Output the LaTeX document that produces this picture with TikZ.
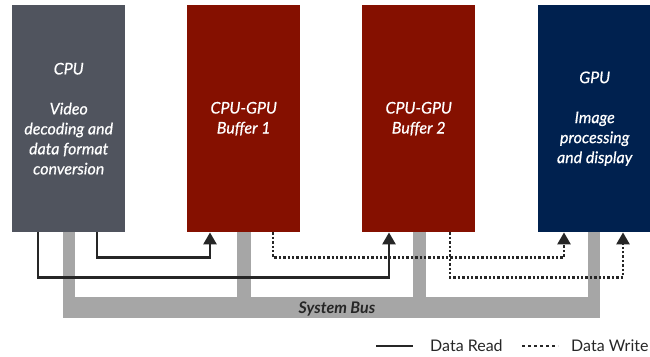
\documentclass[tikz,border=0pt]{standalone}
\usepackage{fontspec}
\setmainfont{Lato}
\newfontfamily\boxfont[FakeBold=0.6]{Lato}
\usetikzlibrary{arrows.meta,calc}
\definecolor{cpucol}{HTML}{50545E}
\definecolor{bufcol}{HTML}{851000}
\definecolor{gpucol}{HTML}{00214F}
\definecolor{buscol}{HTML}{A6A6A6}
\definecolor{linecol}{HTML}{262626}
\begin{document}
\begin{tikzpicture}[x=1pt,y=-1pt,
  unitbox/.style={anchor=north west,minimum width=113pt,minimum height=227pt,inner sep=0pt,
    text=white,align=center,font=\boxfont\fontsize{16}{20}\selectfont\itshape},
  readline/.style={draw=linecol,line width=2.6pt,-{Triangle[width=13pt,length=12pt]}},
  writeline/.style={draw=linecol,line width=2.6pt,dash pattern=on 2.4pt off 2pt,-{Triangle[width=13pt,length=12pt]}},
  buspart/.style={fill=buscol,draw=none}]
\useasboundingbox (0,0) rectangle (650,356);
% units
\node[unitbox,fill=cpucol] (cpu) at (12,5) {CPU\\[20pt]Video\\decoding and\\data format\\conversion};
\node[unitbox,fill=bufcol] (buf1) at (187,5) {CPU-GPU\\Buffer 1};
\node[unitbox,fill=bufcol] (buf2) at (362,5) {CPU-GPU\\Buffer 2};
\node[unitbox,fill=gpucol,minimum width=113pt] (gpu) at (538,5) {GPU\\[20pt]Image\\processing\\and display};
% system bus
\fill[buspart] (63,297) rectangle (600,318);
\fill[buspart] (63,232) rectangle (75,298);
\fill[buspart] (237,232) rectangle (251,298);
\fill[buspart] (413,232) rectangle (426,298);
\fill[buspart] (588,232) rectangle (600,298);
\node[font=\fontsize{16}{18}\selectfont\itshape\bfseries,text=linecol] (bus) at (337,308.5) {System Bus};
% data read
\draw[readline] ($(cpu.south west)+(85,0)$) -- ++(0,25) -| ($(buf1.south west)+(23,0)$);
\draw[readline] ($(cpu.south west)+(26,0)$) -- ++(0,45) -| ($(buf2.south west)+(27,0)$);
% data write
\draw[writeline] ($(buf1.south west)+(86,0)$) -- ++(0,25) -| ($(gpu.south west)+(26,0)$);
\draw[writeline] ($(buf2.south west)+(88,0)$) -- ++(0,45) -| ($(gpu.south west)+(85,0)$);
% legend
\coordinate (lr1) at (376,346);
\coordinate (lr2) at (413,346);
\draw[draw=linecol,line width=2.6pt] (lr1) -- (lr2);
\node[anchor=west,font=\fontsize{16}{18}\selectfont,text=linecol,inner sep=0pt] (lread) at (430,345.5) {Data Read};
\coordinate (lw1) at (522,346);
\coordinate (lw2) at (558,346);
\draw[draw=linecol,line width=2.4pt,dash pattern=on 2.6pt off 3.4pt] (lw1) -- (lw2);
\node[anchor=west,font=\fontsize{16}{18}\selectfont,text=linecol,inner sep=0pt] (lwrite) at (571,345.5) {Data Write};
\end{tikzpicture}
\end{document}
